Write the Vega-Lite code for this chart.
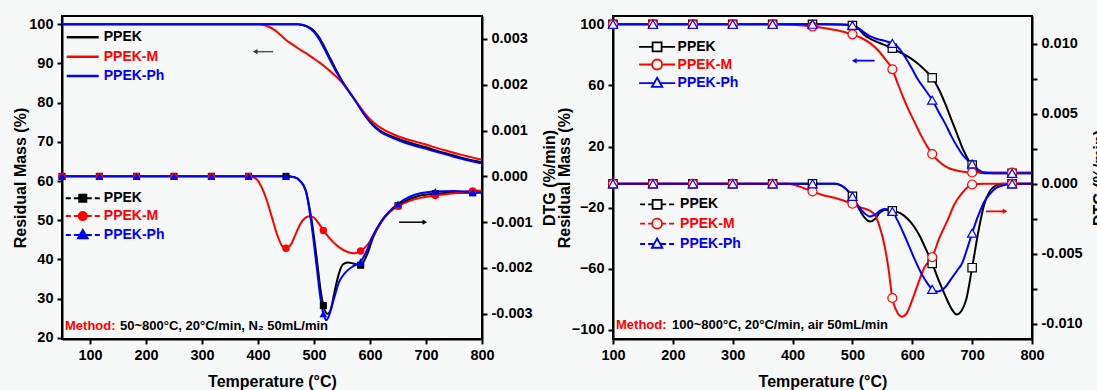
{
  "$schema": "https://vega.github.io/schema/vega-lite/v6.json",
  "background": "#f6f7f7",
  "padding": {"left": 11, "top": 15, "right": 0, "bottom": 0},
  "spacing": -4,
  "config": {
    "font": "Liberation Sans",
    "view": {"stroke": "black", "strokeWidth": 2},
    "axis": {
      "grid": false, "domainColor": "black", "domainWidth": 2, "tickColor": "black", "tickWidth": 2, "tickSize": 5,
      "labelFont": "Liberation Sans", "labelFontWeight": "bold", "labelFontSize": 14.5, "labelColor": "black", "labelPadding": 4,
      "titleFont": "Liberation Sans", "titleFontWeight": "bold", "titleFontSize": 16, "titleColor": "black",
      "labelFlush": false, "labelOverlap": false
    },
    "legend": {"padding": 0, "labelFont": "Liberation Sans", "labelFontSize": 14, "labelFontWeight": "bold"}
  },
  "datasets": {
    "n2_mass": [
      {"T":50,"series":"PPEK","mass":100},{"T":470,"series":"PPEK","mass":100},{"T":480,"series":"PPEK","mass":99.8},{"T":490,"series":"PPEK","mass":99.3},{"T":500,"series":"PPEK","mass":98.3},{"T":510,"series":"PPEK","mass":96.5},{"T":520,"series":"PPEK","mass":93.8},{"T":530,"series":"PPEK","mass":91.0},{"T":540,"series":"PPEK","mass":88.2},{"T":550,"series":"PPEK","mass":85.6},{"T":560,"series":"PPEK","mass":83.4},{"T":570,"series":"PPEK","mass":81.3},{"T":580,"series":"PPEK","mass":79.2},{"T":590,"series":"PPEK","mass":77.0},{"T":600,"series":"PPEK","mass":75.2},{"T":610,"series":"PPEK","mass":73.8},{"T":620,"series":"PPEK","mass":72.7},{"T":640,"series":"PPEK","mass":71.3},{"T":660,"series":"PPEK","mass":70.3},{"T":680,"series":"PPEK","mass":69.4},{"T":700,"series":"PPEK","mass":68.6},{"T":720,"series":"PPEK","mass":67.7},{"T":740,"series":"PPEK","mass":66.9},{"T":760,"series":"PPEK","mass":66.1},{"T":780,"series":"PPEK","mass":65.4},{"T":800,"series":"PPEK","mass":64.8},
      {"T":50,"series":"PPEK-M","mass":100},{"T":400,"series":"PPEK-M","mass":100},{"T":410,"series":"PPEK-M","mass":99.8},{"T":420,"series":"PPEK-M","mass":99.3},{"T":430,"series":"PPEK-M","mass":98.5},{"T":440,"series":"PPEK-M","mass":97.3},{"T":450,"series":"PPEK-M","mass":96.0},{"T":460,"series":"PPEK-M","mass":95.0},{"T":470,"series":"PPEK-M","mass":94.0},{"T":480,"series":"PPEK-M","mass":93.1},{"T":490,"series":"PPEK-M","mass":92.2},{"T":500,"series":"PPEK-M","mass":91.2},{"T":510,"series":"PPEK-M","mass":90.2},{"T":520,"series":"PPEK-M","mass":89.1},{"T":530,"series":"PPEK-M","mass":87.9},{"T":540,"series":"PPEK-M","mass":86.6},{"T":550,"series":"PPEK-M","mass":85.1},{"T":560,"series":"PPEK-M","mass":83.3},{"T":570,"series":"PPEK-M","mass":81.3},{"T":580,"series":"PPEK-M","mass":79.3},{"T":590,"series":"PPEK-M","mass":77.4},{"T":600,"series":"PPEK-M","mass":75.8},{"T":610,"series":"PPEK-M","mass":74.5},{"T":620,"series":"PPEK-M","mass":73.5},{"T":640,"series":"PPEK-M","mass":72.0},{"T":660,"series":"PPEK-M","mass":70.9},{"T":680,"series":"PPEK-M","mass":70.1},{"T":700,"series":"PPEK-M","mass":69.3},{"T":720,"series":"PPEK-M","mass":68.4},{"T":740,"series":"PPEK-M","mass":67.6},{"T":760,"series":"PPEK-M","mass":66.8},{"T":780,"series":"PPEK-M","mass":66.1},{"T":800,"series":"PPEK-M","mass":65.4},
      {"T":50,"series":"PPEK-Ph","mass":100},{"T":470,"series":"PPEK-Ph","mass":100},{"T":480,"series":"PPEK-Ph","mass":99.8},{"T":490,"series":"PPEK-Ph","mass":99.2},{"T":500,"series":"PPEK-Ph","mass":98.0},{"T":510,"series":"PPEK-Ph","mass":96.0},{"T":520,"series":"PPEK-Ph","mass":93.3},{"T":530,"series":"PPEK-Ph","mass":90.5},{"T":540,"series":"PPEK-Ph","mass":87.8},{"T":550,"series":"PPEK-Ph","mass":85.4},{"T":560,"series":"PPEK-Ph","mass":83.3},{"T":570,"series":"PPEK-Ph","mass":81.3},{"T":580,"series":"PPEK-Ph","mass":79.1},{"T":590,"series":"PPEK-Ph","mass":76.9},{"T":600,"series":"PPEK-Ph","mass":75.0},{"T":610,"series":"PPEK-Ph","mass":73.5},{"T":620,"series":"PPEK-Ph","mass":72.4},{"T":640,"series":"PPEK-Ph","mass":71.0},{"T":660,"series":"PPEK-Ph","mass":69.9},{"T":680,"series":"PPEK-Ph","mass":69.0},{"T":700,"series":"PPEK-Ph","mass":68.2},{"T":720,"series":"PPEK-Ph","mass":67.4},{"T":740,"series":"PPEK-Ph","mass":66.6},{"T":760,"series":"PPEK-Ph","mass":65.8},{"T":780,"series":"PPEK-Ph","mass":65.1},{"T":800,"series":"PPEK-Ph","mass":64.5}
    ],
    "n2_dtg": [
      {"T":50,"series":"PPEK","dtg":0},{"T":116.7,"series":"PPEK","dtg":0},{"T":183.3,"series":"PPEK","dtg":0},{"T":250,"series":"PPEK","dtg":0},{"T":316.7,"series":"PPEK","dtg":0},{"T":383.3,"series":"PPEK","dtg":0},{"T":450,"series":"PPEK","dtg":0},{"T":465,"series":"PPEK","dtg":-0.00002},{"T":475,"series":"PPEK","dtg":-0.0001},{"T":485,"series":"PPEK","dtg":-0.0003},{"T":495,"series":"PPEK","dtg":-0.0009},{"T":505,"series":"PPEK","dtg":-0.0018},{"T":512,"series":"PPEK","dtg":-0.0025},{"T":516.7,"series":"PPEK","dtg":-0.00282},{"T":524,"series":"PPEK","dtg":-0.003},{"T":530,"series":"PPEK","dtg":-0.0029},{"T":537,"series":"PPEK","dtg":-0.0025},{"T":545,"series":"PPEK","dtg":-0.0021},{"T":552,"series":"PPEK","dtg":-0.00192},{"T":560,"series":"PPEK","dtg":-0.00188},{"T":570,"series":"PPEK","dtg":-0.0019},{"T":583.3,"series":"PPEK","dtg":-0.00194},{"T":595,"series":"PPEK","dtg":-0.0017},{"T":605,"series":"PPEK","dtg":-0.00135},{"T":620,"series":"PPEK","dtg":-0.001},{"T":635,"series":"PPEK","dtg":-0.00078},{"T":650,"series":"PPEK","dtg":-0.00064},{"T":670,"series":"PPEK","dtg":-0.0005},{"T":690,"series":"PPEK","dtg":-0.00042},{"T":716.7,"series":"PPEK","dtg":-0.00038},{"T":750,"series":"PPEK","dtg":-0.00036},{"T":783.3,"series":"PPEK","dtg":-0.00036},{"T":800,"series":"PPEK","dtg":-0.00035},
      {"T":50,"series":"PPEK-M","dtg":0},{"T":116.7,"series":"PPEK-M","dtg":0},{"T":183.3,"series":"PPEK-M","dtg":0},{"T":250,"series":"PPEK-M","dtg":0},{"T":316.7,"series":"PPEK-M","dtg":0},{"T":383.3,"series":"PPEK-M","dtg":0},{"T":395,"series":"PPEK-M","dtg":-0.00004},{"T":405,"series":"PPEK-M","dtg":-0.0002},{"T":415,"series":"PPEK-M","dtg":-0.0005},{"T":425,"series":"PPEK-M","dtg":-0.0009},{"T":435,"series":"PPEK-M","dtg":-0.0013},{"T":443,"series":"PPEK-M","dtg":-0.00152},{"T":450,"series":"PPEK-M","dtg":-0.00157},{"T":458,"series":"PPEK-M","dtg":-0.0015},{"T":466,"series":"PPEK-M","dtg":-0.0013},{"T":475,"series":"PPEK-M","dtg":-0.00105},{"T":485,"series":"PPEK-M","dtg":-0.0009},{"T":492,"series":"PPEK-M","dtg":-0.00087},{"T":500,"series":"PPEK-M","dtg":-0.0009},{"T":508,"series":"PPEK-M","dtg":-0.00102},{"T":516.7,"series":"PPEK-M","dtg":-0.00118},{"T":530,"series":"PPEK-M","dtg":-0.00138},{"T":545,"series":"PPEK-M","dtg":-0.00155},{"T":560,"series":"PPEK-M","dtg":-0.00165},{"T":572,"series":"PPEK-M","dtg":-0.00168},{"T":583.3,"series":"PPEK-M","dtg":-0.00163},{"T":595,"series":"PPEK-M","dtg":-0.0015},{"T":610,"series":"PPEK-M","dtg":-0.0012},{"T":625,"series":"PPEK-M","dtg":-0.0009},{"T":640,"series":"PPEK-M","dtg":-0.00072},{"T":650,"series":"PPEK-M","dtg":-0.00065},{"T":670,"series":"PPEK-M","dtg":-0.00054},{"T":690,"series":"PPEK-M","dtg":-0.00047},{"T":716.7,"series":"PPEK-M","dtg":-0.00042},{"T":750,"series":"PPEK-M","dtg":-0.00037},{"T":783.3,"series":"PPEK-M","dtg":-0.00032},{"T":800,"series":"PPEK-M","dtg":-0.00031},
      {"T":50,"series":"PPEK-Ph","dtg":0},{"T":116.7,"series":"PPEK-Ph","dtg":0},{"T":183.3,"series":"PPEK-Ph","dtg":0},{"T":250,"series":"PPEK-Ph","dtg":0},{"T":316.7,"series":"PPEK-Ph","dtg":0},{"T":383.3,"series":"PPEK-Ph","dtg":0},{"T":450,"series":"PPEK-Ph","dtg":0},{"T":465,"series":"PPEK-Ph","dtg":-0.00002},{"T":475,"series":"PPEK-Ph","dtg":-0.0001},{"T":485,"series":"PPEK-Ph","dtg":-0.0003},{"T":495,"series":"PPEK-Ph","dtg":-0.001},{"T":505,"series":"PPEK-Ph","dtg":-0.002},{"T":512,"series":"PPEK-Ph","dtg":-0.0027},{"T":516.7,"series":"PPEK-Ph","dtg":-0.003},{"T":522,"series":"PPEK-Ph","dtg":-0.00314},{"T":528,"series":"PPEK-Ph","dtg":-0.003},{"T":535,"series":"PPEK-Ph","dtg":-0.0027},{"T":545,"series":"PPEK-Ph","dtg":-0.0023},{"T":556,"series":"PPEK-Ph","dtg":-0.0021},{"T":570,"series":"PPEK-Ph","dtg":-0.00196},{"T":583.3,"series":"PPEK-Ph","dtg":-0.00186},{"T":595,"series":"PPEK-Ph","dtg":-0.0016},{"T":605,"series":"PPEK-Ph","dtg":-0.0013},{"T":620,"series":"PPEK-Ph","dtg":-0.00098},{"T":635,"series":"PPEK-Ph","dtg":-0.00076},{"T":650,"series":"PPEK-Ph","dtg":-0.0006},{"T":670,"series":"PPEK-Ph","dtg":-0.00045},{"T":690,"series":"PPEK-Ph","dtg":-0.00037},{"T":716.7,"series":"PPEK-Ph","dtg":-0.00033},{"T":750,"series":"PPEK-Ph","dtg":-0.00032},{"T":783.3,"series":"PPEK-Ph","dtg":-0.00034},{"T":800,"series":"PPEK-Ph","dtg":-0.00035}
    ],
    "air_mass": [
      {"T":100,"series":"PPEK","mass":100},{"T":166.7,"series":"PPEK","mass":100},{"T":233.3,"series":"PPEK","mass":100},{"T":300,"series":"PPEK","mass":100},{"T":366.7,"series":"PPEK","mass":100},{"T":433.3,"series":"PPEK","mass":100},{"T":480,"series":"PPEK","mass":99.9},{"T":490,"series":"PPEK","mass":99.7},{"T":500,"series":"PPEK","mass":99.2},{"T":510,"series":"PPEK","mass":97},{"T":520,"series":"PPEK","mass":93},{"T":530,"series":"PPEK","mass":90.5},{"T":540,"series":"PPEK","mass":88.6},{"T":550,"series":"PPEK","mass":87},{"T":566.7,"series":"PPEK","mass":84.3},{"T":580,"series":"PPEK","mass":81.5},{"T":590,"series":"PPEK","mass":79.5},{"T":600,"series":"PPEK","mass":77},{"T":610,"series":"PPEK","mass":74},{"T":620,"series":"PPEK","mass":70.5},{"T":633.3,"series":"PPEK","mass":65},{"T":645,"series":"PPEK","mass":57},{"T":655,"series":"PPEK","mass":48},{"T":665,"series":"PPEK","mass":38},{"T":675,"series":"PPEK","mass":28},{"T":685,"series":"PPEK","mass":18},{"T":695,"series":"PPEK","mass":10.5},{"T":700,"series":"PPEK","mass":7.9},{"T":710,"series":"PPEK","mass":3.5},{"T":720,"series":"PPEK","mass":2.6},{"T":766.7,"series":"PPEK","mass":2.5},{"T":800,"series":"PPEK","mass":2.5},
      {"T":100,"series":"PPEK-M","mass":100},{"T":166.7,"series":"PPEK-M","mass":100},{"T":233.3,"series":"PPEK-M","mass":100},{"T":300,"series":"PPEK-M","mass":100},{"T":366.7,"series":"PPEK-M","mass":100},{"T":400,"series":"PPEK-M","mass":99.6},{"T":433.3,"series":"PPEK-M","mass":98.5},{"T":460,"series":"PPEK-M","mass":97},{"T":480,"series":"PPEK-M","mass":95.5},{"T":500,"series":"PPEK-M","mass":93.4},{"T":515,"series":"PPEK-M","mass":91},{"T":530,"series":"PPEK-M","mass":87.5},{"T":545,"series":"PPEK-M","mass":82},{"T":555,"series":"PPEK-M","mass":77},{"T":566.7,"series":"PPEK-M","mass":70.5},{"T":575,"series":"PPEK-M","mass":62},{"T":585,"series":"PPEK-M","mass":52},{"T":595,"series":"PPEK-M","mass":43},{"T":605,"series":"PPEK-M","mass":35},{"T":615,"series":"PPEK-M","mass":27},{"T":625,"series":"PPEK-M","mass":20},{"T":633.3,"series":"PPEK-M","mass":15.1},{"T":645,"series":"PPEK-M","mass":10},{"T":660,"series":"PPEK-M","mass":6},{"T":680,"series":"PPEK-M","mass":3.8},{"T":700,"series":"PPEK-M","mass":3.0},{"T":766.7,"series":"PPEK-M","mass":3.0},{"T":800,"series":"PPEK-M","mass":3.0},
      {"T":100,"series":"PPEK-Ph","mass":100},{"T":166.7,"series":"PPEK-Ph","mass":100},{"T":233.3,"series":"PPEK-Ph","mass":100},{"T":300,"series":"PPEK-Ph","mass":100},{"T":366.7,"series":"PPEK-Ph","mass":100},{"T":433.3,"series":"PPEK-Ph","mass":100},{"T":480,"series":"PPEK-Ph","mass":99.9},{"T":490,"series":"PPEK-Ph","mass":99.7},{"T":500,"series":"PPEK-Ph","mass":99.3},{"T":510,"series":"PPEK-Ph","mass":97.5},{"T":520,"series":"PPEK-Ph","mass":94.5},{"T":530,"series":"PPEK-Ph","mass":92},{"T":540,"series":"PPEK-Ph","mass":90.5},{"T":550,"series":"PPEK-Ph","mass":89.5},{"T":566.7,"series":"PPEK-Ph","mass":87.5},{"T":575,"series":"PPEK-Ph","mass":85.5},{"T":585,"series":"PPEK-Ph","mass":80.5},{"T":595,"series":"PPEK-Ph","mass":74},{"T":600,"series":"PPEK-Ph","mass":70.5},{"T":610,"series":"PPEK-Ph","mass":63.5},{"T":620,"series":"PPEK-Ph","mass":58},{"T":633.3,"series":"PPEK-Ph","mass":50.4},{"T":645,"series":"PPEK-Ph","mass":42},{"T":655,"series":"PPEK-Ph","mass":35},{"T":665,"series":"PPEK-Ph","mass":27},{"T":675,"series":"PPEK-Ph","mass":20},{"T":685,"series":"PPEK-Ph","mass":14},{"T":695,"series":"PPEK-Ph","mass":10.2},{"T":700,"series":"PPEK-Ph","mass":8.6},{"T":710,"series":"PPEK-Ph","mass":5},{"T":720,"series":"PPEK-Ph","mass":3},{"T":735,"series":"PPEK-Ph","mass":2.5},{"T":766.7,"series":"PPEK-Ph","mass":2.5},{"T":800,"series":"PPEK-Ph","mass":2.5}
    ],
    "air_dtg": [
      {"T":100,"series":"PPEK","dtg":0},{"T":166.7,"series":"PPEK","dtg":0},{"T":233.3,"series":"PPEK","dtg":0},{"T":300,"series":"PPEK","dtg":0},{"T":366.7,"series":"PPEK","dtg":0},{"T":433.3,"series":"PPEK","dtg":0},{"T":470,"series":"PPEK","dtg":0},{"T":480,"series":"PPEK","dtg":-0.0001},{"T":490,"series":"PPEK","dtg":-0.0004},{"T":500,"series":"PPEK","dtg":-0.0009},{"T":510,"series":"PPEK","dtg":-0.0017},{"T":520,"series":"PPEK","dtg":-0.0024},{"T":530,"series":"PPEK","dtg":-0.0027},{"T":538,"series":"PPEK","dtg":-0.0025},{"T":546,"series":"PPEK","dtg":-0.00205},{"T":555,"series":"PPEK","dtg":-0.00185},{"T":566.7,"series":"PPEK","dtg":-0.00193},{"T":580,"series":"PPEK","dtg":-0.0021},{"T":592,"series":"PPEK","dtg":-0.0025},{"T":602,"series":"PPEK","dtg":-0.003},{"T":612,"series":"PPEK","dtg":-0.0037},{"T":622,"series":"PPEK","dtg":-0.0046},{"T":633.3,"series":"PPEK","dtg":-0.0057},{"T":645,"series":"PPEK","dtg":-0.007},{"T":655,"series":"PPEK","dtg":-0.008},{"T":665,"series":"PPEK","dtg":-0.0089},{"T":674,"series":"PPEK","dtg":-0.00935},{"T":682,"series":"PPEK","dtg":-0.0091},{"T":690,"series":"PPEK","dtg":-0.0083},{"T":700,"series":"PPEK","dtg":-0.006},{"T":710,"series":"PPEK","dtg":-0.0035},{"T":720,"series":"PPEK","dtg":-0.0015},{"T":730,"series":"PPEK","dtg":-0.0005},{"T":740,"series":"PPEK","dtg":-0.00012},{"T":750,"series":"PPEK","dtg":0},{"T":766.7,"series":"PPEK","dtg":0},{"T":800,"series":"PPEK","dtg":0},
      {"T":100,"series":"PPEK-M","dtg":0},{"T":166.7,"series":"PPEK-M","dtg":0},{"T":233.3,"series":"PPEK-M","dtg":0},{"T":300,"series":"PPEK-M","dtg":0},{"T":366.7,"series":"PPEK-M","dtg":0},{"T":390,"series":"PPEK-M","dtg":0},{"T":405,"series":"PPEK-M","dtg":-0.0001},{"T":418,"series":"PPEK-M","dtg":-0.0003},{"T":433.3,"series":"PPEK-M","dtg":-0.00055},{"T":450,"series":"PPEK-M","dtg":-0.0008},{"T":470,"series":"PPEK-M","dtg":-0.001},{"T":485,"series":"PPEK-M","dtg":-0.0012},{"T":500,"series":"PPEK-M","dtg":-0.00143},{"T":515,"series":"PPEK-M","dtg":-0.0017},{"T":528,"series":"PPEK-M","dtg":-0.0019},{"T":537,"series":"PPEK-M","dtg":-0.0022},{"T":545,"series":"PPEK-M","dtg":-0.003},{"T":554,"series":"PPEK-M","dtg":-0.0045},{"T":560,"series":"PPEK-M","dtg":-0.006},{"T":566.7,"series":"PPEK-M","dtg":-0.00817},{"T":575,"series":"PPEK-M","dtg":-0.0092},{"T":583,"series":"PPEK-M","dtg":-0.0095},{"T":590,"series":"PPEK-M","dtg":-0.0093},{"T":600,"series":"PPEK-M","dtg":-0.0083},{"T":610,"series":"PPEK-M","dtg":-0.0071},{"T":620,"series":"PPEK-M","dtg":-0.006},{"T":633.3,"series":"PPEK-M","dtg":-0.00525},{"T":645,"series":"PPEK-M","dtg":-0.0039},{"T":659,"series":"PPEK-M","dtg":-0.0026},{"T":670,"series":"PPEK-M","dtg":-0.0015},{"T":683,"series":"PPEK-M","dtg":-0.00067},{"T":700,"series":"PPEK-M","dtg":-0.00005},{"T":720,"series":"PPEK-M","dtg":0},{"T":766.7,"series":"PPEK-M","dtg":0},{"T":800,"series":"PPEK-M","dtg":0},
      {"T":100,"series":"PPEK-Ph","dtg":0},{"T":166.7,"series":"PPEK-Ph","dtg":0},{"T":233.3,"series":"PPEK-Ph","dtg":0},{"T":300,"series":"PPEK-Ph","dtg":0},{"T":366.7,"series":"PPEK-Ph","dtg":0},{"T":433.3,"series":"PPEK-Ph","dtg":0},{"T":470,"series":"PPEK-Ph","dtg":0},{"T":480,"series":"PPEK-Ph","dtg":-0.0001},{"T":490,"series":"PPEK-Ph","dtg":-0.0004},{"T":500,"series":"PPEK-Ph","dtg":-0.0009},{"T":510,"series":"PPEK-Ph","dtg":-0.0016},{"T":520,"series":"PPEK-Ph","dtg":-0.0021},{"T":529,"series":"PPEK-Ph","dtg":-0.00234},{"T":538,"series":"PPEK-Ph","dtg":-0.0022},{"T":547,"series":"PPEK-Ph","dtg":-0.0019},{"T":555,"series":"PPEK-Ph","dtg":-0.00181},{"T":566.7,"series":"PPEK-Ph","dtg":-0.00198},{"T":575,"series":"PPEK-Ph","dtg":-0.0026},{"T":585,"series":"PPEK-Ph","dtg":-0.0035},{"T":595,"series":"PPEK-Ph","dtg":-0.0045},{"T":605,"series":"PPEK-Ph","dtg":-0.0055},{"T":615,"series":"PPEK-Ph","dtg":-0.0064},{"T":625,"series":"PPEK-Ph","dtg":-0.0071},{"T":633.3,"series":"PPEK-Ph","dtg":-0.00755},{"T":642,"series":"PPEK-Ph","dtg":-0.0077},{"T":655,"series":"PPEK-Ph","dtg":-0.0074},{"T":665,"series":"PPEK-Ph","dtg":-0.0068},{"T":675,"series":"PPEK-Ph","dtg":-0.0062},{"T":683,"series":"PPEK-Ph","dtg":-0.0057},{"T":692,"series":"PPEK-Ph","dtg":-0.0046},{"T":700,"series":"PPEK-Ph","dtg":-0.00353},{"T":710,"series":"PPEK-Ph","dtg":-0.0023},{"T":720,"series":"PPEK-Ph","dtg":-0.0013},{"T":729,"series":"PPEK-Ph","dtg":-0.00075},{"T":740,"series":"PPEK-Ph","dtg":-0.0003},{"T":755,"series":"PPEK-Ph","dtg":-0.00008},{"T":766.7,"series":"PPEK-Ph","dtg":0},{"T":800,"series":"PPEK-Ph","dtg":0}
    ]
  },
  "hconcat": [
    {
      "width": 420, "height": 323,
      "layer": [
        {
          "layer": [
            {
              "data": {"name": "n2_mass"},
              "mark": {"type": "line", "strokeWidth": 2, "interpolate": "monotone", "clip": true},
              "encoding": {
                "x": {"field": "T", "type": "quantitative", "scale": {"domain": [50, 800], "nice": false, "zero": false},
                  "axis": {"title": "Temperature (°C)", "titlePadding": 12, "labelOverlap": false, "values": [100,150,200,250,300,350,400,450,500,550,600,650,700,750,800],
                    "labelExpr": "datum.value % 100 === 0 ? format(datum.value, 'd') : ''",
                    "encode": {"ticks": {"update": {"y2": {"signal": "datum.value % 100 === 0 ? 5 : 3"}}}}}},
                "y": {"field": "mass", "type": "quantitative", "scale": {"domain": [19.7, 102.1], "nice": false, "zero": false},
                  "axis": {"orient": "left", "title": "Residual Mass (%)", "titlePadding": 0, "labelOverlap": false, "values": [20,25,30,35,40,45,50,55,60,65,70,75,80,85,90,95,100],
                    "labelExpr": "datum.value % 10 === 0 ? format(datum.value, 'd') : ''",
                    "encode": {"ticks": {"update": {"x2": {"signal": "datum.value % 10 === 0 ? -5 : -3"}}}}}},
                "color": {"field": "series", "type": "nominal", "scale": {"domain": ["PPEK","PPEK-M","PPEK-Ph"], "range": ["#000000","#ff0000","#0000ff"]},
                  "legend": {"orient": "none", "legendX": 13.7, "legendY": 14.3, "title": null, "symbolType": "M-3.2,0H3.2", "symbolSize": 100, "symbolStrokeWidth": 2.5, "labelOffset": 14, "rowPadding": 5.4,
                    "encode": {"labels": {"update": {"fill": {"signal": "datum.value === 'PPEK-M' ? '#ff0000' : (datum.value === 'PPEK-Ph' ? '#0000ff' : '#000000')"}}}}}}
              }
            },
            {
              "data": {"values": [{}]},
              "mark": {"type": "rule", "strokeWidth": 1.5, "color": "#555555"},
              "encoding": {"x": {"datum": 396}, "x2": {"datum": 427}, "y": {"datum": 93}}
            },
            {
              "data": {"values": [{}]},
              "mark": {"type": "point", "shape": "triangle-left", "filled": true, "size": 28, "color": "#333333", "opacity": 1},
              "encoding": {"x": {"datum": 395}, "y": {"datum": 93}}
            },
            {
              "data": {"values": [{}]},
              "mark": {"type": "rule", "strokeWidth": 1.5, "color": "#000000"},
              "encoding": {"x": {"datum": 652}, "x2": {"datum": 697}, "y": {"datum": 49.5}}
            },
            {
              "data": {"values": [{}]},
              "mark": {"type": "point", "shape": "triangle-right", "filled": true, "size": 28, "color": "#000000", "opacity": 1},
              "encoding": {"x": {"datum": 698}, "y": {"datum": 49.5}}
            },
            {
              "data": {"values": [{}]},
              "mark": {"type": "text", "align": "left", "baseline": "middle", "fontSize": 13, "fontWeight": "bold", "color": "#ff0000", "text": "Method:"},
              "encoding": {"x": {"datum": 55.4}, "y": {"datum": 23}}
            },
            {
              "data": {"values": [{}]},
              "mark": {"type": "text", "align": "left", "baseline": "middle", "fontSize": 13, "fontWeight": "bold", "color": "#000000", "dx": 55, "text": "50~800°C, 20°C/min, N₂ 50mL/min"},
              "encoding": {"x": {"datum": 55.4}, "y": {"datum": 23}}
            }
          ]
        },
        {
          "data": {"name": "n2_dtg"},
          "layer": [
            {
              "mark": {"type": "line", "strokeWidth": 2, "interpolate": "monotone", "clip": true},
              "encoding": {
                "x": {"field": "T", "type": "quantitative"},
                "y": {"field": "dtg", "type": "quantitative", "scale": {"domain": [-0.00355, 0.0035], "nice": false, "zero": false},
                  "axis": {"orient": "right", "title": "DTG (%/min)", "titleAngle": 270, "titleBaseline": "top", "titlePadding": 9, "labelOverlap": false,
                    "values": [-0.003,-0.0025,-0.002,-0.0015,-0.001,-0.0005,0,0.0005,0.001,0.0015,0.002,0.0025,0.003],
                    "labelExpr": "abs(round(datum.value*10000)) % 10 === 0 ? replace(format(datum.value, '.3f'), '−', '-') : ''",
                    "encode": {"ticks": {"update": {"x2": {"signal": "abs(round(datum.value*10000)) % 10 === 0 ? 5 : 3"}}}}}},
                "color": {"field": "series", "type": "nominal", "scale": {"domain": ["PPEK","PPEK-M","PPEK-Ph"], "range": ["#000000","#ff0000","#0000ff"]},
                  "legend": {"orient": "none", "legendX": 13.8, "legendY": 175.3, "title": null, "symbolSize": 100, "symbolStrokeWidth": 2, "labelOffset": 14, "rowPadding": 1.8,
                    "encode": {
                      "symbols": {"update": {
                        "shape": {"signal": "datum.value === 'PPEK' ? 'M-3.4,0H-2.4M-1.8,0H1.8M2.4,0H3.4M-0.7,-0.7H0.7V0.7H-0.7Z' : (datum.value === 'PPEK-M' ? 'M-3.4,0H-2.4M-1.8,0H1.8M2.4,0H3.4M0.8,0A0.8,0.8,0,1,1,-0.8,0A0.8,0.8,0,1,1,0.8,0Z' : 'M-3.4,0H-2.4M-1.8,0H1.8M2.4,0H3.4M0,-1L0.95,0.65L-0.95,0.65Z')"},
                        "size": {"value": 100},
                        "fill": {"signal": "datum.value === 'PPEK-M' ? '#ff0000' : (datum.value === 'PPEK-Ph' ? '#0000ff' : '#000000')"},
                        "stroke": {"signal": "datum.value === 'PPEK-M' ? '#ff0000' : (datum.value === 'PPEK-Ph' ? '#0000ff' : '#000000')"},
                        "strokeWidth": {"value": 2}, "opacity": {"value": 1}, "fillOpacity": {"value": 1}}},
                      "labels": {"update": {"fill": {"signal": "datum.value === 'PPEK-M' ? '#ff0000' : (datum.value === 'PPEK-Ph' ? '#0000ff' : '#000000')"}}}}}}
              }
            },
            {
              "transform": [{"filter": {"and": [{"field": "series", "equal": "PPEK"}, {"field": "T", "oneOf": [50,116.7,183.3,250,316.7,383.3,450,516.7,583.3,650,716.7,783.3]}]}}],
              "mark": {"type": "point", "shape": "square", "filled": true, "size": 50, "opacity": 1},
              "encoding": {"x": {"field": "T", "type": "quantitative"}, "y": {"field": "dtg", "type": "quantitative"}, "color": {"field": "series", "type": "nominal"}}
            },
            {
              "transform": [{"filter": {"and": [{"field": "series", "equal": "PPEK-M"}, {"field": "T", "oneOf": [50,116.7,183.3,250,316.7,383.3,450,516.7,583.3,650,716.7,783.3]}]}}],
              "mark": {"type": "point", "shape": "circle", "filled": true, "size": 55, "opacity": 1},
              "encoding": {"x": {"field": "T", "type": "quantitative"}, "y": {"field": "dtg", "type": "quantitative"}, "color": {"field": "series", "type": "nominal"}}
            },
            {
              "transform": [{"filter": {"and": [{"field": "series", "equal": "PPEK-Ph"}, {"field": "T", "oneOf": [50,116.7,183.3,250,316.7,383.3,450,516.7,583.3,650,716.7,783.3]}]}}],
              "mark": {"type": "point", "shape": "triangle-up", "filled": true, "size": 60, "opacity": 1},
              "encoding": {"x": {"field": "T", "type": "quantitative"}, "y": {"field": "dtg", "type": "quantitative"}, "color": {"field": "series", "type": "nominal"}}
            }
          ]
        }
      ],
      "resolve": {"scale": {"y": "independent", "color": "independent"}}
    },
    {
      "width": 419, "height": 323,
      "layer": [
        {
          "layer": [
            {
              "data": {"name": "air_mass"},
              "mark": {"type": "line", "strokeWidth": 2, "interpolate": "monotone", "clip": true},
              "encoding": {
                "x": {"field": "T", "type": "quantitative", "scale": {"domain": [100, 800], "nice": false, "zero": false},
                  "axis": {"title": "Temperature (°C)", "titlePadding": 12, "labelOverlap": false, "values": [100,150,200,250,300,350,400,450,500,550,600,650,700,750,800],
                    "labelExpr": "datum.value % 100 === 0 ? format(datum.value, 'd') : ''",
                    "encode": {"ticks": {"update": {"y2": {"signal": "datum.value % 100 === 0 ? 5 : 3"}}}}}},
                "y": {"field": "mass", "type": "quantitative", "scale": {"domain": [-105.9, 105.4], "nice": false, "zero": false},
                  "axis": {"orient": "left", "title": "Residual Mass (%)", "titlePadding": -1, "labelOverlap": false, "values": [-100,-90,-80,-70,-60,-50,-40,-30,-20,-10,0,10,20,30,40,50,60,70,80,90,100],
                    "labelExpr": "datum.value % 20 === 0 ? format(datum.value, 'd') : ''",
                    "encode": {"ticks": {"update": {"x2": {"signal": "datum.value % 20 === 0 ? -5 : -3"}}}}}},
                "color": {"field": "series", "type": "nominal", "scale": {"domain": ["PPEK","PPEK-M","PPEK-Ph"], "range": ["#000000","#ff0000","#0000ff"]},
                  "legend": {"orient": "none", "legendX": 37.1, "legendY": 23.8, "title": null, "symbolSize": 100, "symbolStrokeWidth": 1.8, "labelOffset": 13.5, "rowPadding": -0.3,
                    "encode": {
                      "symbols": {"update": {
                        "shape": {"signal": "datum.value === 'PPEK' ? 'M-3.6,0H-0.9M0.9,0H3.6M-0.9,-0.9H0.9V0.9H-0.9Z' : (datum.value === 'PPEK-M' ? 'M-3.6,0H-1M1,0H3.6M1,0A1,1,0,1,1,-1,0A1,1,0,1,1,1,0Z' : 'M-3.6,0H-0.62M0.62,0H3.6M0,-1.1L1.05,0.75L-1.05,0.75Z')"},
                        "size": {"value": 100},
                        "fill": {"value": "#f6f7f7"},
                        "stroke": {"signal": "datum.value === 'PPEK-M' ? '#ff0000' : (datum.value === 'PPEK-Ph' ? '#0000ff' : '#000000')"},
                        "strokeWidth": {"value": 1.8}, "opacity": {"value": 1}, "fillOpacity": {"value": 1}}},
                      "labels": {"update": {"fill": {"signal": "datum.value === 'PPEK-M' ? '#ff0000' : (datum.value === 'PPEK-Ph' ? '#0000ff' : '#000000')"}}}}}}
              }
            },
            {
              "data": {"name": "air_mass"},
              "transform": [{"filter": {"and": [{"field": "series", "equal": "PPEK"}, {"field": "T", "oneOf": [100,166.7,233.3,300,366.7,433.3,500,566.7,633.3,700,766.7]}]}}],
              "mark": {"type": "point", "shape": "square", "filled": false, "fill": "#f6f7f7", "size": 70, "strokeWidth": 1.2, "opacity": 1},
              "encoding": {"x": {"field": "T", "type": "quantitative"}, "y": {"field": "mass", "type": "quantitative"}, "color": {"field": "series", "type": "nominal"}}
            },
            {
              "data": {"name": "air_mass"},
              "transform": [{"filter": {"and": [{"field": "series", "equal": "PPEK-M"}, {"field": "T", "oneOf": [100,166.7,233.3,300,366.7,433.3,500,566.7,633.3,700,766.7]}]}}],
              "mark": {"type": "point", "shape": "circle", "filled": false, "fill": "#f6f7f7", "size": 80, "strokeWidth": 1.2, "opacity": 1},
              "encoding": {"x": {"field": "T", "type": "quantitative"}, "y": {"field": "mass", "type": "quantitative"}, "color": {"field": "series", "type": "nominal"}}
            },
            {
              "data": {"name": "air_mass"},
              "transform": [{"filter": {"and": [{"field": "series", "equal": "PPEK-Ph"}, {"field": "T", "oneOf": [100,166.7,233.3,300,366.7,433.3,500,566.7,633.3,700,766.7]}]}}],
              "mark": {"type": "point", "shape": "triangle-up", "filled": false, "fill": "#f6f7f7", "size": 85, "strokeWidth": 1.2, "opacity": 1},
              "encoding": {"x": {"field": "T", "type": "quantitative"}, "y": {"field": "mass", "type": "quantitative"}, "color": {"field": "series", "type": "nominal"}}
            },
            {
              "data": {"values": [{}]},
              "mark": {"type": "rule", "strokeWidth": 1.8, "color": "#0000ff"},
              "encoding": {"x": {"datum": 504}, "x2": {"datum": 537}, "y": {"datum": 76.2}}
            },
            {
              "data": {"values": [{}]},
              "mark": {"type": "point", "shape": "triangle-left", "filled": true, "size": 30, "color": "#0000ff", "opacity": 1},
              "encoding": {"x": {"datum": 503}, "y": {"datum": 76.2}}
            },
            {
              "data": {"values": [{}]},
              "mark": {"type": "rule", "strokeWidth": 1.8, "color": "#ff0000"},
              "encoding": {"x": {"datum": 723}, "x2": {"datum": 754}, "y": {"datum": -22.4}}
            },
            {
              "data": {"values": [{}]},
              "mark": {"type": "point", "shape": "triangle-right", "filled": true, "size": 30, "color": "#ff0000", "opacity": 1},
              "encoding": {"x": {"datum": 755}, "y": {"datum": -22.4}}
            },
            {
              "data": {"values": [{}]},
              "mark": {"type": "text", "align": "left", "baseline": "middle", "fontSize": 13, "fontWeight": "bold", "color": "#ff0000", "text": "Method:"},
              "encoding": {"x": {"datum": 105}, "y": {"datum": -96.8}}
            },
            {
              "data": {"values": [{}]},
              "mark": {"type": "text", "align": "left", "baseline": "middle", "fontSize": 13, "fontWeight": "bold", "color": "#000000", "dx": 56, "text": "100~800°C, 20°C/min, air 50mL/min"},
              "encoding": {"x": {"datum": 105}, "y": {"datum": -96.8}}
            }
          ]
        },
        {
          "data": {"name": "air_dtg"},
          "layer": [
            {
              "mark": {"type": "line", "strokeWidth": 2, "interpolate": "monotone", "clip": true},
              "encoding": {
                "x": {"field": "T", "type": "quantitative"},
                "y": {"field": "dtg", "type": "quantitative", "scale": {"domain": [-0.0111, 0.012], "nice": false, "zero": false},
                  "axis": {"orient": "right", "title": "DTG (%/min)", "titleAngle": 270, "titleBaseline": "top", "titlePadding": 9, "labelOverlap": false,
                    "values": [-0.01,-0.0075,-0.005,-0.0025,0,0.0025,0.005,0.0075,0.01],
                    "labelExpr": "abs(round(datum.value*10000)) % 50 === 0 ? replace(format(datum.value, '.3f'), '−', '-') : ''",
                    "encode": {"ticks": {"update": {"x2": {"signal": "abs(round(datum.value*10000)) % 50 === 0 ? 5 : 3"}}}}}},
                "color": {"field": "series", "type": "nominal", "scale": {"domain": ["PPEK","PPEK-M","PPEK-Ph"], "range": ["#000000","#ff0000","#0000ff"]},
                  "legend": {"orient": "none", "legendX": 37.1, "legendY": 181.4, "title": null, "symbolSize": 100, "symbolStrokeWidth": 1.8, "labelOffset": 16, "rowPadding": 1.3,
                    "encode": {
                      "symbols": {"update": {
                        "shape": {"signal": "datum.value === 'PPEK' ? 'M-3.4,0H-2.4M-1.8,0H-0.9M0.9,0H1.8M2.4,0H3.4M-0.9,-0.9H0.9V0.9H-0.9Z' : (datum.value === 'PPEK-M' ? 'M-3.4,0H-2.4M-1.8,0H-1M1,0H1.8M2.4,0H3.4M1,0A1,1,0,1,1,-1,0A1,1,0,1,1,1,0Z' : 'M-3.4,0H-2.4M-1.8,0H-0.62M0.62,0H1.8M2.4,0H3.4M0,-1.1L1.05,0.75L-1.05,0.75Z')"},
                        "size": {"value": 100},
                        "fill": {"value": "#f6f7f7"},
                        "stroke": {"signal": "datum.value === 'PPEK-M' ? '#ff0000' : (datum.value === 'PPEK-Ph' ? '#0000ff' : '#000000')"},
                        "strokeWidth": {"value": 1.8}, "opacity": {"value": 1}, "fillOpacity": {"value": 1}}},
                      "labels": {"update": {"fill": {"signal": "datum.value === 'PPEK-M' ? '#ff0000' : (datum.value === 'PPEK-Ph' ? '#0000ff' : '#000000')"}}}}}}
              }
            },
            {
              "transform": [{"filter": {"and": [{"field": "series", "equal": "PPEK"}, {"field": "T", "oneOf": [100,166.7,233.3,300,366.7,433.3,500,566.7,633.3,700,766.7]}]}}],
              "mark": {"type": "point", "shape": "square", "filled": false, "fill": "#f6f7f7", "size": 70, "strokeWidth": 1.2, "opacity": 1},
              "encoding": {"x": {"field": "T", "type": "quantitative"}, "y": {"field": "dtg", "type": "quantitative"}, "color": {"field": "series", "type": "nominal"}}
            },
            {
              "transform": [{"filter": {"and": [{"field": "series", "equal": "PPEK-M"}, {"field": "T", "oneOf": [100,166.7,233.3,300,366.7,433.3,500,566.7,633.3,700,766.7]}]}}],
              "mark": {"type": "point", "shape": "circle", "filled": false, "fill": "#f6f7f7", "size": 80, "strokeWidth": 1.2, "opacity": 1},
              "encoding": {"x": {"field": "T", "type": "quantitative"}, "y": {"field": "dtg", "type": "quantitative"}, "color": {"field": "series", "type": "nominal"}}
            },
            {
              "transform": [{"filter": {"and": [{"field": "series", "equal": "PPEK-Ph"}, {"field": "T", "oneOf": [100,166.7,233.3,300,366.7,433.3,500,566.7,633.3,700,766.7]}]}}],
              "mark": {"type": "point", "shape": "triangle-up", "filled": false, "fill": "#f6f7f7", "size": 85, "strokeWidth": 1.2, "opacity": 1},
              "encoding": {"x": {"field": "T", "type": "quantitative"}, "y": {"field": "dtg", "type": "quantitative"}, "color": {"field": "series", "type": "nominal"}}
            }
          ]
        }
      ],
      "resolve": {"scale": {"y": "independent", "color": "independent"}}
    }
  ],
  "resolve": {"scale": {"x": "independent", "y": "independent", "color": "independent"}}
}
